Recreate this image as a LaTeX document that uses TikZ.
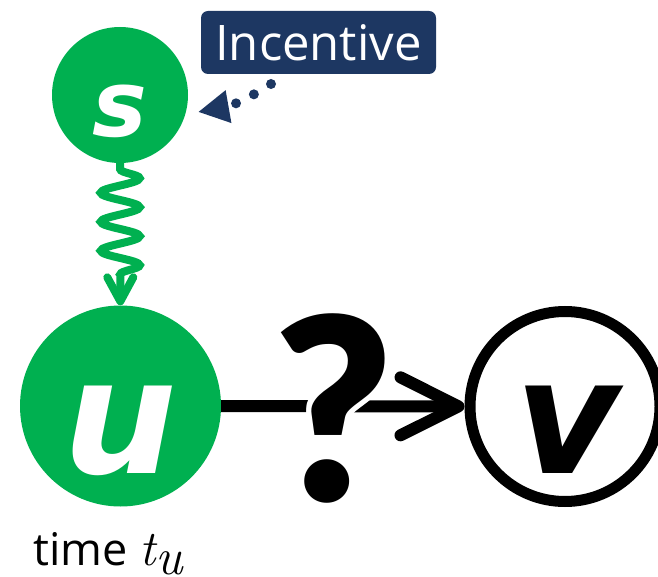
\documentclass[tikz,border=0pt]{standalone}
\usepackage{fontspec}
\setmainfont{Open Sans}
\newfontfamily\dvs{DejaVu Sans}
\newfontfamily\qfont{Lato Black}
\newfontfamily\lmr{Latin Modern Roman}
\usetikzlibrary{arrows.meta, decorations.pathmorphing, calc}
\definecolor{pgreen}{HTML}{00B050}
\definecolor{navy}{HTML}{1D3762}
\tikzset{
  gnode/.style={circle, fill=pgreen, inner sep=0pt, text=white},
  letter/.style={font=\dvs\bfseries\itshape\fontsize{#1}{#1}\selectfont},
  qmark/.style={anchor=base, inner sep=0pt, font=\qfont\fontsize{255}{255}\selectfont},
}
\begin{document}
\begin{tikzpicture}[x=1pt,y=1pt]
\useasboundingbox (0,0) rectangle (658,-577);
% nodes
\node[gnode, minimum size=136pt, letter=92, text height=84pt, text depth=0pt] (s) at (120,-95) {s};
\node[gnode, minimum size=201pt, letter=160, text height=134pt, text depth=0pt] (u) at (120.5,-406) {u};
\node[circle, draw=black, line width=11pt, inner sep=0pt, minimum size=190pt, letter=160, text height=134pt, text depth=0pt] (v) at (565,-406.5) {\hspace*{6pt}v};
\node[fill=navy, rounded corners=7pt, text=white, font=\fontsize{49}{49}\selectfont, minimum width=235pt, minimum height=63pt, inner sep=0pt] (inc) at (318.5,-42.5) {Incentive};
\node[anchor=base west, inner sep=0pt, font=\fontsize{45}{54}\selectfont] (time) at (33,-565) {time {\lmr\itshape\fontsize{50}{50}\selectfont t}\raisebox{-9pt}{\lmr\itshape\fontsize{52}{52}\selectfont u}};
% connectors
\draw[pgreen, line width=8pt, decorate,
  decoration={snake, amplitude=19.5pt, segment length=29pt, pre length=6pt, post length=22pt},
  -{Straight Barb[length=24pt,width=26pt,round]}] (s) -- (u);
\coordinate (d1) at (271,-84);
\coordinate (d2) at (198,-112);
\draw[navy, line width=10pt, line cap=round, dash pattern=on 0pt off 20pt,
  -{Triangle[length=31pt,width=31pt]}] (d1) to[out=213, in=10] (d2);
\draw[line width=12pt, -{Straight Barb[length=58pt,width=58pt,round]}] (u) -- (v);
% question mark with white halo
\coordinate (q) at (334,-501);
\foreach \a in {0,22.5,...,337.5}
  \node[qmark, text=white] at ($(q)+(\a:5.5)$) {?};
\node[qmark] (qm) at (q) {?};
\end{tikzpicture}
\end{document}
